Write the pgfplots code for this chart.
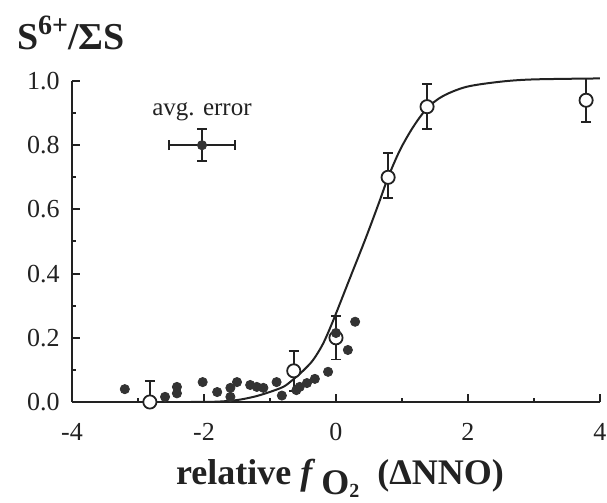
\documentclass[border=0pt]{standalone}
\usepackage{fontspec}
\setmainfont{Liberation Serif}
\usepackage{pgfplots}
\pgfplotsset{compat=1.18}
\definecolor{ink}{HTML}{222222}
\definecolor{dot}{HTML}{333333}

\begin{document}
\begin{tikzpicture}
\begin{axis}[
  scale only axis, width=264pt, height=160.5pt,
  xmin=-4, xmax=4, ymin=0, ymax=1,
  axis x line*=bottom, axis y line*=left,
  axis line style={ink, line width=1.1pt},
  xtick={-4,-2,0,2,4}, xticklabels={-4,-2,0,2,4},
  ytick={0,0.2,0.4,0.6,0.8,1.0},
  minor x tick num=1, minor y tick num=1,
  tick align=inside,
  major tick length=4pt, minor tick length=2.2pt,
  every tick/.style={ink, line width=1pt},
  tick label style={font=\fontsize{13}{13}\selectfont, text=ink},
  /pgf/number format/assume math mode=true,
  y tick label style={xshift=-2.7pt},
  yticklabel style={/pgf/number format/fixed, /pgf/number format/fixed zerofill, /pgf/number format/precision=1},
  x tick label style={yshift=-7pt},
  clip=false,
  xlabel={\textbf{relative \textit{f}\,\raisebox{-5pt}{O}\raisebox{-6.5pt}{\fontsize{10}{10}\selectfont 2}\ \ (ΔNNO)}},
  every axis x label/.style={at={(axis description cs:0.5076,0)}, anchor=base, yshift=-41.5pt, font=\fontsize{18}{18}\selectfont, text=ink},
  ylabel={\textbf{S\raisebox{0.42em}{\fontsize{14}{14}\selectfont 6+}/ΣS}},
  every axis y label/.style={at={(axis description cs:0,1)}, anchor=base west, xshift=-31pt, yshift=15.5pt, font=\fontsize{19}{19}\selectfont, text=ink},
  error bars/error bar style={ink, line width=0.8pt},
  error bars/error mark options={rotate=90, mark size=2.5pt, line width=0.8pt, ink},
]
% open circles with error bars
\addplot[only marks, mark=*, mark size=3.3pt, mark options={fill=white, draw=ink, line width=0.9pt},
  error bars/.cd, y dir=both, y explicit]
  coordinates {
  (-2.82,0.000) += (0,0.065) -= (0,0)
  (-0.64,0.097) +- (0,0.062)
  (0.00,0.200) +- (0,0.067)
  (0.79,0.700) += (0,0.075) -= (0,0.065)
  (1.38,0.920) +- (0,0.070)
  (3.79,0.940) +- (0,0.068)
  };
% filled points
\addplot[only marks, mark=*, mark size=2.3pt, mark options={fill=dot, draw=dot}]
  coordinates {
  (-3.20,0.040) (-2.59,0.016) (-2.41,0.047) (-2.41,0.027)
  (-2.02,0.062) (-1.80,0.031) (-1.60,0.044) (-1.60,0.016)
  (-1.50,0.062) (-1.30,0.053) (-1.20,0.047) (-1.10,0.044)
  (-0.90,0.062) (-0.82,0.020) (-0.60,0.037) (-0.55,0.047)
  (-0.44,0.059) (-0.32,0.072) (-0.12,0.094) (0.00,0.215)
  (0.18,0.162) (0.29,0.250)
  };
% fitted curve
\addplot[ink, line width=1pt, smooth, tension=0.5]
  coordinates {
  (-2.2,0) (-1.8,0.001) (-1.5,0.006) (-1.25,0.016) (-1.05,0.028)
  (-0.8,0.047) (-0.65,0.07) (-0.5,0.097) (-0.35,0.13) (-0.2,0.18)
  (-0.05,0.25) (0.2,0.38) (0.45,0.51) (0.65,0.62) (0.79,0.70)
  (0.97,0.785) (1.17,0.857) (1.38,0.915) (1.62,0.953) (1.98,0.982)
  (2.5,0.998) (3,1.005) (4,1.008)
  };
% average error
\addplot[only marks, mark=*, mark size=2.3pt, mark options={fill=dot, draw=dot},
  error bars/.cd, x dir=both, x explicit, y dir=both, y explicit]
  coordinates {(-2.03,0.80) +- (0.5,0.05)};
\node[anchor=base, font=\fontsize{12.5}{12.5}\selectfont, text=ink] at (axis cs:-2.03,0.891) {avg. error};
\end{axis}
\pgfresetboundingbox
\useasboundingbox (-36pt,-50.5pt) rectangle (267.5pt,201pt);
\end{tikzpicture}
\end{document}
